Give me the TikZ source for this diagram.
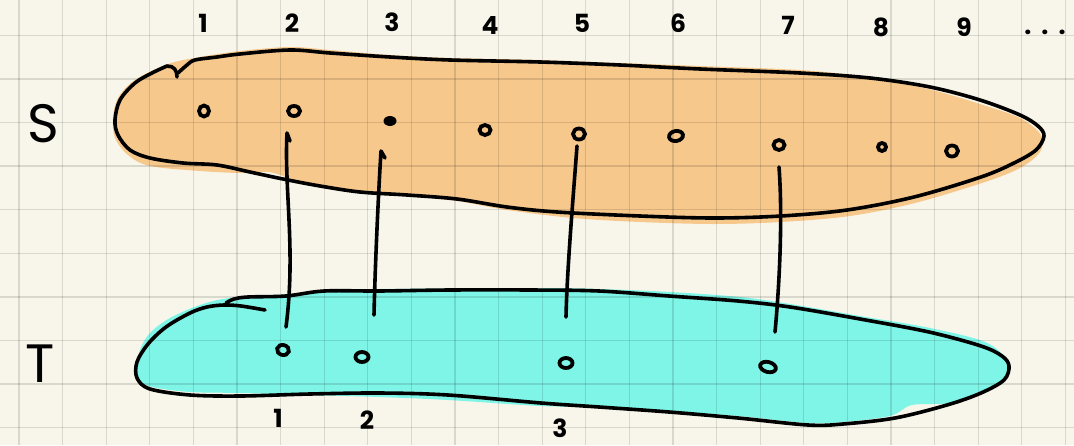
\documentclass[tikz,border=0pt]{standalone}
\usepackage{fontspec}
\setmainfont{Poppins}
\usetikzlibrary{shapes.geometric}
\definecolor{paper}{HTML}{F8F6EA}
\definecolor{sfill}{HTML}{F6C88C}
\definecolor{tfill}{HTML}{7EF5E6}
\begin{document}
\begin{tikzpicture}[x=1pt,y=-1pt,
  pen/.style={line width=3.6pt, line cap=round, line join=round, black},
  gridline/.style={line width=1.3pt, black, opacity=0.12},
  ring/.style={draw=black, line width=3.8pt, ellipse, inner sep=0pt, minimum width=11pt, minimum height=10pt},
  solid dot/.style={fill=black, ellipse, inner sep=0pt, minimum width=13pt, minimum height=10pt},
  numlab/.style={font=\bfseries\fontsize{25}{25}\selectfont, inner sep=0pt},
  setlab/.style={font=\fontsize{54}{54}\selectfont, inner sep=0pt}]
\fill[paper] (0,0) rectangle (1074,445);
\useasboundingbox (0,0) rectangle (1074,445);

% fills
\fill[sfill] plot[smooth cycle, tension=0.55] coordinates {
 (113,118) (118,98) (135,80) (168,64) (200,57) (240,51) (290,47) (330,50) (390,55)
 (450,58) (540,60) (620,63) (700,66) (800,70) (860,76) (900,83) (940,92) (980,104)
 (1020,118) (1041,135) (1040,152) (1020,168) (985,182) (915,203) (850,216) (781,222)
 (714,224) (640,222) (573,218) (507,210) (457,201) (407,196) (360,193) (300,182)
 (283,176) (268,172) (240,173) (200,171) (150,166) (128,155) (115,138)};
\fill[tfill] plot[smooth cycle, tension=0.55] coordinates {
 (137,372) (140,350) (150,333) (170,318) (200,305) (230,298) (290,294) (330,290)
 (380,289) (540,288) (600,289) (670,292) (740,297) (790,304) (860,316) (930,328)
 (985,342) (1006,360) (1005,380) (985,392) (950,403) (912,405) (890,416) (843,422)
 (808,423) (738,416) (669,411) (599,407) (541,406) (448,400) (379,397) (310,395)
 (241,393) (190,392) (152,387) (139,380)};

% grid
\foreach \k in {0,...,24} \draw[gridline] ({19+43.6*\k},0) -- ({19+43.6*\k},445);
\foreach \k in {0,...,9} \draw[gridline] (0,{35.3+43.6*\k}) -- (1074,{35.3+43.6*\k});

% outline S
\draw[pen] plot[smooth, tension=0.55] coordinates {
 (178,73) (187,65) (195,60) (217,57) (240,54) (290,50) (330,53) (390,57) (450,60)
 (540,62) (620,65) (700,69) (800,73) (870,78) (930,87) (980,100) (1020,115) (1038,126)
 (1044,136) (1036,150) (1014,163) (981,177) (914,197) (847,210) (781,216) (714,218)
 (640,216) (557,212) (507,207) (457,199) (407,195) (360,192) (320,186) (283,179)
 (250,172) (217,165) (183,163) (150,158) (130,150) (118,135) (115,120) (120,100)
 (135,83) (152,73) (167,66)};
\draw[pen] (167,66) .. controls (174,66) and (177,70) .. (177,77);

% outline T
\draw[pen] plot[smooth, tension=0.55] coordinates {
 (265,310) (241,306) (224,305) (207,307) (190,313) (166,327) (148,344) (137,362)
 (137,378) (150,389) (190,395) (241,396) (310,394) (379,393) (448,395) (541,403)
 (599,407) (669,412) (738,418) (808,425) (843,424) (895,418) (947,405) (981,393)
 (1004,380) (1009,366) (1002,356) (981,346) (929,332) (860,319) (790,307) (738,301)
 (669,296) (599,291) (530,290) (450,290) (379,291) (324,291) (286,296) (248,297)
 (234,299) (226,303)};

% dots in S
\node[ring, minimum width=10pt, minimum height=11pt] (s1) at (204,111) {};
\node[ring, minimum width=12pt] (s2) at (294,111) {};
\node[solid dot] (s3) at (390,121) {};
\node[ring] (s4) at (485,130) {};
\node[ring, minimum width=12pt, minimum height=11pt] (s5) at (579,134) {};
\node[ring, minimum width=14pt, rotate=10] (s6) at (676,136) {};
\node[ring] (s7) at (779,145) {};
\node[ring, minimum width=8pt, minimum height=8pt] (s8) at (882,147) {};
\node[ring, minimum width=12pt, minimum height=11pt] (s9) at (952,151) {};

% dots in T
\node[ring, minimum width=12pt, rotate=-15] (t1) at (283,350) {};
\node[ring, minimum width=13pt] (t2) at (362,357) {};
\node[ring, minimum width=13pt] (t3) at (566,363) {};
\node[ring, minimum width=16pt, rotate=-15] (t4) at (768,367) {};

% connector ends
\coordinate (a1) at (287,133); \coordinate (b1) at (286,327);
\coordinate (a2) at (381,151); \coordinate (b2) at (374,315);
\coordinate (a3) at (577,146); \coordinate (b3) at (566,317);
\coordinate (a4) at (779,167); \coordinate (b4) at (775,332);

% connectors
\draw[pen] ([shift={(3,8)}]a1) -- (a1) .. controls (284,190) and (296,250) .. (b1);
\draw[pen] ([shift={(4,7)}]a2) -- (a2) .. controls (378,200) and (375,270) .. (b2);
\draw[pen] (a3) .. controls (573,200) and (567,270) .. (b3);
\draw[pen] (a4) .. controls (783,220) and (779,290) .. (b4);

% labels
\node[setlab] (S) at (43,124) {S};
\node[setlab] (T) at (40,364) {T};

\node[numlab] (n1) at (203,23) {1};
\node[numlab] (n2) at (292,23) {2};
\node[numlab] (n3) at (392,22) {3};
\node[numlab] (n4) at (490,25) {4};
\node[numlab] (n5) at (582,23) {5};
\node[numlab] (n6) at (678,23) {6};
\node[numlab] (n7) at (788,25) {7};
\node[numlab] (n8) at (881,27) {8};
\node[numlab] (n9) at (964,27) {9};
\node[numlab] (ndots) at (1045,32) {.\hspace{10pt}.\hspace{10pt}.};

\node[numlab] (m1) at (278,418) {1};
\node[numlab] (m2) at (367,420) {2};
\node[numlab] (m3) at (560,428) {3};
\end{tikzpicture}
\end{document}
